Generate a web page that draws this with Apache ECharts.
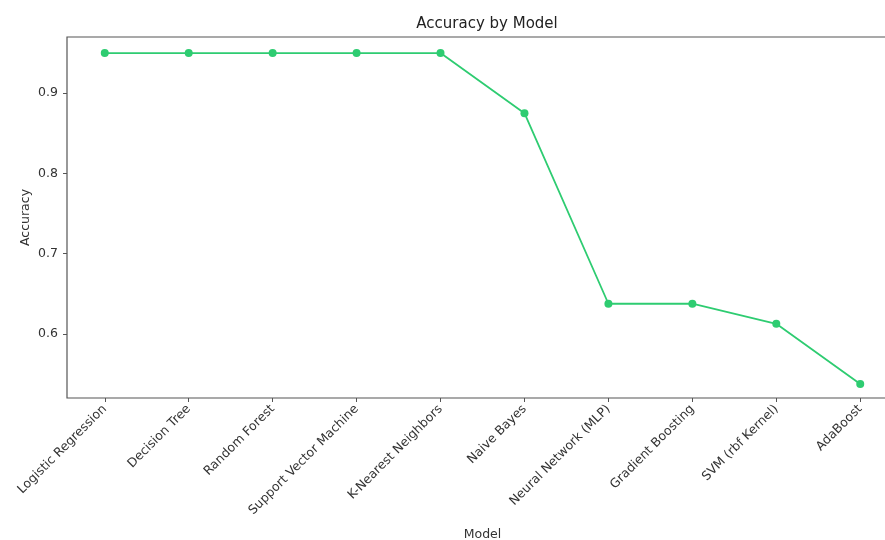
<!DOCTYPE html>
<html>
<head>
<meta charset="utf-8">
<script src="https://cdn.jsdelivr.net/npm/echarts@6/dist/echarts.min.js"></script>
<style>
  html, body { margin: 0; padding: 0; background: #fff; overflow: hidden; }
  #chart { width: 885px; height: 540px; }
</style>
</head>
<body>
<div id="chart"></div>
<script>
// Model names along the x axis
const models = [
  'Logistic Regression', 'Decision Tree', 'Random Forest', 'Support Vector Machine',
  'K-Nearest Neighbors', 'Naive Bayes', 'Neural Network (MLP)', 'Gradient Boosting',
  'SVM (rbf Kernel)', 'AdaBoost'
];
// Accuracy per model
const accuracy = [0.95, 0.95, 0.95, 0.95, 0.95, 0.875, 0.6375, 0.6375, 0.6125, 0.5375];
// Y tick positions
const yTicks = [0.6, 0.7, 0.8, 0.9];

const positions = models.map((_, i) => i);
const points = accuracy.map((v, i) => [i, v]);

const textColor = '#333';
const frameColor = '#555';
const font = 'DejaVu Sans';

const chart = echarts.init(document.getElementById('chart'), null, { renderer: 'canvas' });
chart.setOption({
  animation: false,
  backgroundColor: '#fff',
  title: {
    text: 'Accuracy by Model',
    left: 482,
    textAlign: 'center',
    top: 12,
    textStyle: { fontFamily: font, fontSize: 15, fontWeight: 'normal', color: '#222' }
  },
  // the axes box runs past the right edge of the page
  grid: {
    left: 67, right: -13, top: 37, bottom: 142,
    outerBoundsMode: 'none',
    containLabel: false,
    show: true, borderColor: frameColor, borderWidth: 1.2, backgroundColor: 'transparent'
  },
  xAxis: {
    type: 'value',
    min: -0.45,
    max: 9.45,
    name: 'Model',
    nameLocation: 'middle',
    nameGap: 130,
    nameMoveOverlap: false,
    nameTextStyle: { fontFamily: font, fontSize: 12.5, color: textColor },
    splitLine: { show: false },
    axisLine: { show: false, onZero: false },
    axisTick: { show: true, length: 4, customValues: positions, lineStyle: { color: frameColor } },
    axisLabel: {
      customValues: positions,
      rotate: 45,
      margin: 9,
      fontFamily: font,
      fontSize: 12.5,
      color: textColor,
      formatter: v => models[Math.round(v)]
    }
  },
  yAxis: {
    type: 'value',
    min: 0.52,
    max: 0.97,
    name: 'Accuracy',
    nameLocation: 'middle',
    nameGap: 35,
    nameMoveOverlap: false,
    nameTextStyle: { fontFamily: font, fontSize: 12.5, color: textColor },
    splitLine: { show: false },
    axisLine: { show: false, onZero: false },
    axisTick: { show: true, length: 4, customValues: yTicks, lineStyle: { color: frameColor } },
    axisLabel: {
      customValues: yTicks,
      margin: 9,
      fontFamily: font,
      fontSize: 12.5,
      color: textColor,
      formatter: v => v.toFixed(1)
    }
  },
  series: [{
    type: 'line',
    data: points,
    symbol: 'circle',
    symbolSize: 8,
    lineStyle: { color: '#2ecc71', width: 1.8 },
    itemStyle: { color: '#2ecc71' }
  }]
});
</script>
</body>
</html>
